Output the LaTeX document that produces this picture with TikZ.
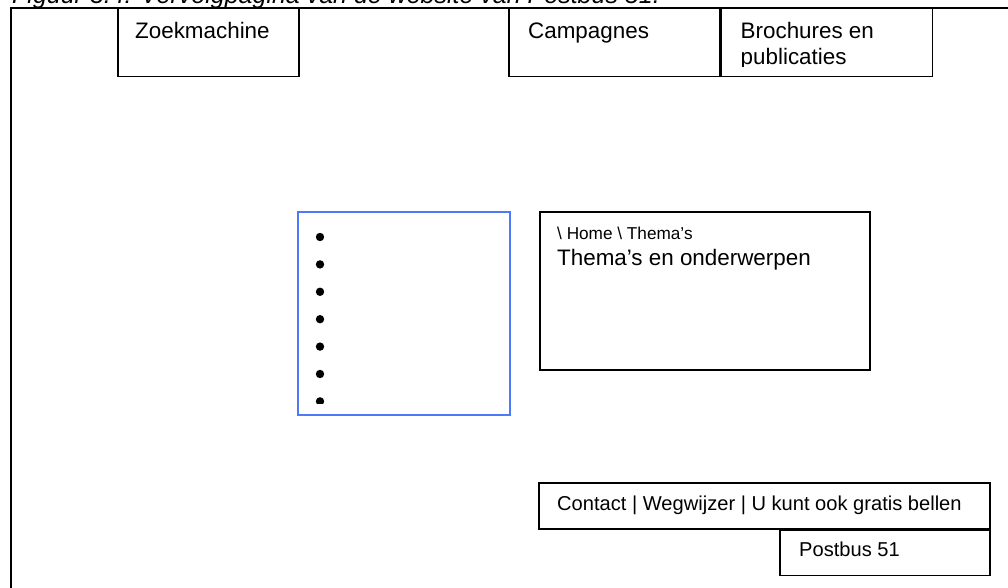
\documentclass[tikz,border=0pt]{standalone}
\usepackage{fontspec}
\setmainfont{Liberation Sans}
\usetikzlibrary{positioning}
\definecolor{menuBlue}{RGB}{77,121,250}

\begin{document}
\begin{tikzpicture}[x=1pt, y=-1pt,
    box/.style={draw, line width=1.5pt, inner sep=0pt, anchor=north west},
    topHeight/.style={minimum height=68pt},
    bigText/.style={font=\fontsize{22.4}{26}\selectfont, inner sep=0pt, anchor=base west},
    smallText/.style={font=\fontsize{17.2}{20}\selectfont, inner sep=0pt, anchor=base west},
    footText/.style={font=\fontsize{20.1}{24}\selectfont, inner sep=0pt, anchor=base west},
    bullet/.style={circle, fill, inner sep=0pt, minimum size=8.4pt},
    ]
    \path[use as bounding box, clip] (0,0) rectangle (1008,588);

    \node[font=\itshape\fontsize{25}{30}\selectfont, inner sep=0pt, anchor=base west] (caption) at (12,4) {Figuur 3.4: Vervolgpagina van de website van Postbus 51.};
    \draw[line width=1.8pt] (11,600) -- (11,8) -- (1020,8);

    % menu bar
    \node[box, topHeight, minimum width=181pt] (zoek) at (117,8) {};
    \node[box, topHeight, minimum width=211pt] (campagnes) at (508,8) {};
    \node[box, topHeight, minimum width=211pt] (brochures) at (campagnes.north east) {};

    \node[bigText] (zoekLabel) at ([xshift=18pt, yshift=-31pt] zoek.north west) {Zoekmachine};
    \node[bigText] (campagnesLabel) at ([xshift=20pt, yshift=-31pt] campagnes.north west) {Campagnes};
    \begin{scope}
        \clip (brochures.north west) rectangle ([yshift=10.5pt] brochures.south east);
        \node[bigText] (brochuresLabel) at ([xshift=20pt, yshift=-31pt] brochures.north west) {Brochures en};
        \node[bigText, yshift=-26pt] (brochuresLabel2) at (brochuresLabel.base west) {publicaties};
    \end{scope}

    % side menu
    \node[box, draw=menuBlue, minimum width=212pt, minimum height=203pt] (menu) at (297,211) {};
    \begin{scope}
        \clip (menu.north west) rectangle ([yshift=12pt] menu.south east);
        \foreach \i in {0,...,6}
            \node[bullet] (dot\i) at ([xshift=23pt, yshift={-26pt-27.4pt*\i}] menu.north west) {};
    \end{scope}

    % content
    \node[box, minimum width=330pt, minimum height=158pt] (inhoud) at (539,211) {};
    \node[smallText] (pad) at ([xshift=18pt, yshift=-28pt] inhoud.north west) {\textbackslash{} Home \textbackslash{} Thema’s};
    \node[bigText] (titel) at ([xshift=18pt, yshift=-54pt] inhoud.north west) {Thema’s en onderwerpen};

    % footer
    \node[box, minimum width=451pt, minimum height=46pt] (contact) at (538,482) {};
    \node[box, minimum width=210pt, minimum height=45pt, anchor=north east] (postbus) at (contact.south east) {};
    \node[footText] (contactLabel) at ([xshift=19pt, yshift=-28pt] contact.north west) {Contact | Wegwijzer | U kunt ook gratis bellen};
    \node[footText] (postbusLabel) at ([xshift=20pt, yshift=-27pt] postbus.north west) {Postbus 51};
\end{tikzpicture}
\end{document}
